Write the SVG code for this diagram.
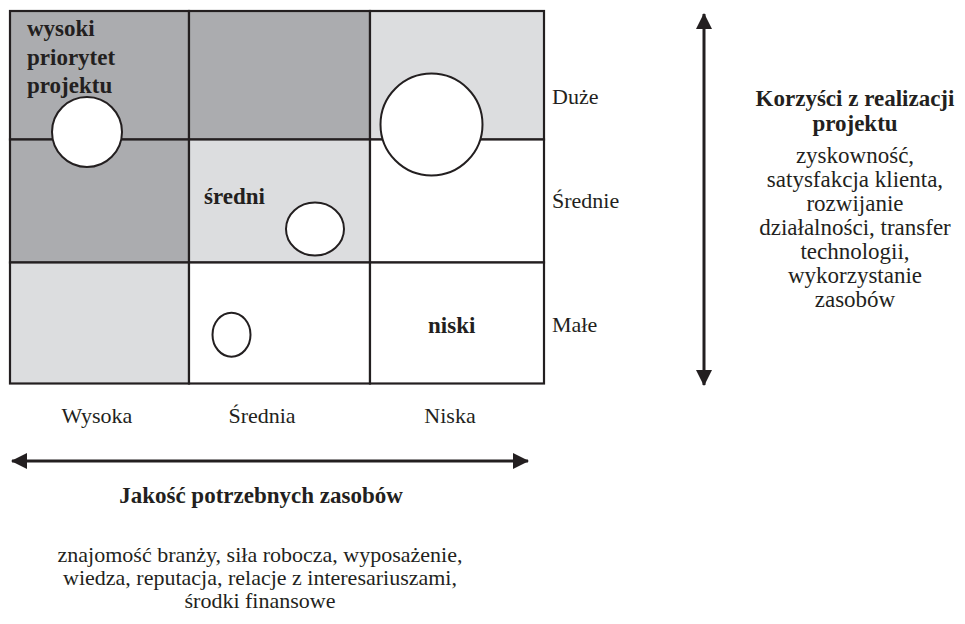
<svg xmlns="http://www.w3.org/2000/svg" width="965" height="624" viewBox="0 0 965 624">
<defs>
<style>
.t{font-family:"Liberation Serif","Times New Roman",serif;font-size:22px;fill:#231f20}
.r{font-size:23px}
.b{font-family:"Liberation Serif","Times New Roman",serif;font-size:23px;font-weight:bold;fill:#231f20}
.c{text-anchor:middle}
.cell{stroke:#231f20;stroke-width:2.2}
.dk{fill:#abacaf}
.lt{fill:#dcdddf}
.wh{fill:#ffffff}
.bub{fill:#ffffff;stroke:#231f20;stroke-width:2}
.ax{stroke:#231f20;stroke-width:3;fill:none}
</style>
<marker id="ah" viewBox="0 0 16 16" refX="15" refY="8" markerWidth="16" markerHeight="16" markerUnits="userSpaceOnUse" orient="auto-start-reverse">
<path d="M0,0 L16,8 L0,16 Z" fill="#231f20"/>
</marker>
</defs>
<rect width="965" height="624" fill="#ffffff"/>
<g id="grid">
<rect class="cell dk" x="10" y="11" width="179" height="128.5"/>
<rect class="cell dk" x="189" y="11" width="181" height="128.5"/>
<rect class="cell lt" x="370" y="11" width="174" height="128.5"/>
<rect class="cell dk" x="10" y="139.5" width="179" height="123"/>
<rect class="cell lt" x="189" y="139.5" width="181" height="123"/>
<rect class="cell wh" x="370" y="139.5" width="174" height="123"/>
<rect class="cell lt" x="10" y="262.5" width="179" height="121"/>
<rect class="cell wh" x="189" y="262.5" width="181" height="121"/>
<rect class="cell wh" x="370" y="262.5" width="174" height="121"/>
</g>
<g id="label-high">
<text class="b" x="27" y="36">wysoki</text>
<text class="b" x="27" y="64.5">priorytet</text>
<text class="b" x="27" y="93">projektu</text>
</g>
<g id="label-mid"><text class="b" x="204" y="204">średni</text></g>
<g id="label-low"><text class="b" x="428" y="333">niski</text></g>
<g id="bubble-1"><circle class="bub" cx="87" cy="132" r="35"/></g>
<g id="bubble-2"><circle class="bub" cx="431.5" cy="124.5" r="51"/></g>
<g id="bubble-3"><ellipse class="bub" cx="315" cy="229" rx="29" ry="26.5"/></g>
<g id="bubble-4"><ellipse class="bub" cx="231.5" cy="334.7" rx="19" ry="22"/></g>
<g id="row-labels">
<text class="t" x="552" y="104">Duże</text>
<text class="t" x="552" y="208">Średnie</text>
<text class="t" x="552" y="332">Małe</text>
</g>
<g id="col-labels">
<text class="t c" x="97" y="423">Wysoka</text>
<text class="t c" x="262" y="423">Średnia</text>
<text class="t c" x="450" y="423">Niska</text>
</g>
<g id="connectors">
<line class="ax" x1="12" y1="461" x2="528" y2="461" marker-start="url(#ah)" marker-end="url(#ah)"/>
<line class="ax" x1="704" y1="14" x2="704" y2="385" marker-start="url(#ah)" marker-end="url(#ah)"/>
</g>
<g id="x-axis-title">
<text class="b c" x="261" y="503">Jakość potrzebnych zasobów</text>
<text class="t c" x="260" y="562">znajomość branży, siła robocza, wyposażenie,</text>
<text class="t c" x="260" y="585">wiedza, reputacja, relacje z interesariuszami,</text>
<text class="t c" x="260" y="608">środki finansowe</text>
</g>
<g id="y-axis-title">
<text class="b c" x="855" y="106">Korzyści z realizacji</text>
<text class="b c" x="855" y="131">projektu</text>
<text class="t r c" x="855" y="163">zyskowność,</text>
<text class="t r c" x="855" y="187">satysfakcja klienta,</text>
<text class="t r c" x="855" y="211">rozwijanie</text>
<text class="t r c" x="855" y="235">działalności, transfer</text>
<text class="t r c" x="855" y="259">technologii,</text>
<text class="t r c" x="855" y="283">wykorzystanie</text>
<text class="t r c" x="855" y="307">zasobów</text>
</g>
</svg>
